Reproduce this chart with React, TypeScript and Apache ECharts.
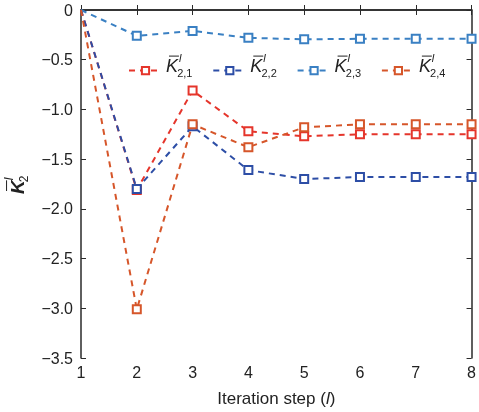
import React, { useEffect, useRef } from "react";
import * as echarts from "echarts";

const steps = [1, 2, 3, 4, 5, 6, 7, 8];
const k21 = [0, -1.81, -0.81, -1.22, -1.27, -1.25, -1.25, -1.25];
const k22 = [0, -1.8, -1.17, -1.61, -1.7, -1.68, -1.68, -1.68];
const k23 = [0, -0.26, -0.21, -0.28, -0.295, -0.29, -0.29, -0.29];
const k24 = [0, -3.01, -1.15, -1.38, -1.18, -1.15, -1.15, -1.15];
const seriesNames = ["2,1", "2,2", "2,3", "2,4"];
const seriesData = [k21, k22, k23, k24];
const colors = ["#e5352b", "#2d4ea6", "#3a80c3", "#d6562a"];
const yTicks = { min: -3.5, max: 0, interval: 0.5 };

const FONT = "'Liberation Sans', Arial, sans-serif";

function kLabel(x: number, y: number, sub: string, size: number, bold: boolean) {
  const sm = Math.round(size * 0.62);
  return [
    {
      type: "text",
      x,
      y,
      style: {
        text: "K",
        font: `italic ${bold ? "bold " : ""}${size}px ${FONT}`,
        fill: "#222",
        textVerticalAlign: "middle",
      },
    },
    {
      type: "line",
      shape: { x1: x + 3, y1: y - size * 0.55, x2: x + size * 0.72, y2: y - size * 0.55 },
      style: { stroke: "#222", lineWidth: 1 },
    },
    {
      type: "text",
      x: x + size * 0.72,
      y: y - size * 0.42,
      style: { text: "l", font: `italic ${sm}px ${FONT}`, fill: "#222", textVerticalAlign: "middle" },
    },
    {
      type: "text",
      x: x + size * 0.62,
      y: y + size * 0.38,
      style: { text: sub, font: `${sm}px ${FONT}`, fill: "#222", textVerticalAlign: "middle" },
    },
  ];
}

export default function App() {
  const ref = useRef<HTMLDivElement>(null);
  useEffect(() => {
    if (!ref.current) return;
    const chart = echarts.init(ref.current, undefined, { renderer: "svg" });
    const axisLine = { show: true, lineStyle: { color: "#2a2a2a", width: 1.5 } };
    const tickFmt = (v: number) => (v === 0 ? "0" : v.toFixed(1).replace("-", "\u2212"));

    const legendGraphics: any[] = [];
    seriesNames.forEach((n, i) => {
      legendGraphics.push(...kLabel(166 + i * 84.3, 66, n, 18, false));
    });

    chart.setOption({
      animation: false,
      grid: { left: 81, right: 2, top: 10, bottom: 54 },
      legend: seriesNames.map((n, i) => ({
        left: 123 + i * 84.3,
        top: 61,
        itemWidth: 33,
        itemHeight: 9,
        formatter: () => "",
        data: [n],
      })),
      xAxis: [
        {
          type: "value",
          min: 1,
          max: 8,
          interval: 1,
          axisLine,
          axisTick: { inside: true, length: 5, lineStyle: { color: "#2a2a2a" } },
          axisLabel: { color: "#222", fontSize: 16, fontFamily: FONT, margin: 6 },
          splitLine: { show: false },
          name: "Iteration step ({i|l})",
          nameLocation: "middle",
          nameGap: 32,
          nameTextStyle: {
            color: "#222",
            fontSize: 17,
            fontFamily: FONT,
            rich: { i: { fontStyle: "italic", fontSize: 17, fontFamily: FONT, color: "#222" } },
          },
        },
        {
          type: "value",
          position: "top",
          min: 1,
          max: 8,
          interval: 1,
          axisLine,
          axisTick: { inside: true, length: 5, lineStyle: { color: "#2a2a2a" } },
          axisLabel: { show: false },
          splitLine: { show: false },
        },
      ],
      yAxis: [
        {
          type: "value",
          ...yTicks,
          axisLine,
          axisTick: { show: true, inside: true, length: 5, lineStyle: { color: "#2a2a2a" } },
          axisLabel: { color: "#222", fontSize: 16, fontFamily: FONT, margin: 8, formatter: tickFmt },
          splitLine: { show: false },
        },
        {
          type: "value",
          position: "right",
          ...yTicks,
          axisLine,
          axisTick: { show: true, inside: true, length: 5, lineStyle: { color: "#2a2a2a" } },
          axisLabel: { show: false },
          splitLine: { show: false },
        },
      ],
      series: seriesData.map((d, i) => ({
        name: seriesNames[i],
        type: "line",
        data: d.map((v, j) => (j === 0 ? { value: [steps[j], v], symbol: "none" } : [steps[j], v])),
        symbol: "rect",
        symbolSize: 8,
        showAllSymbol: true,
        lineStyle: { color: colors[i], width: 2, type: [6, 5] },
        itemStyle: { color: "#fff", borderColor: colors[i], borderWidth: 2 },
        color: colors[i],
        z: 2 + i,
      })),
      graphic: [
        ...legendGraphics,
        {
          type: "group",
          x: 17,
          y: 194,
          rotation: Math.PI / 2,
          children: kLabel(0, 0, "2", 19, true),
        },
      ],
    });
    return () => chart.dispose();
  }, []);
  return <div ref={ref} style={{ width: 479, height: 412, position: "fixed", left: 0, top: 0 }} />;
}
